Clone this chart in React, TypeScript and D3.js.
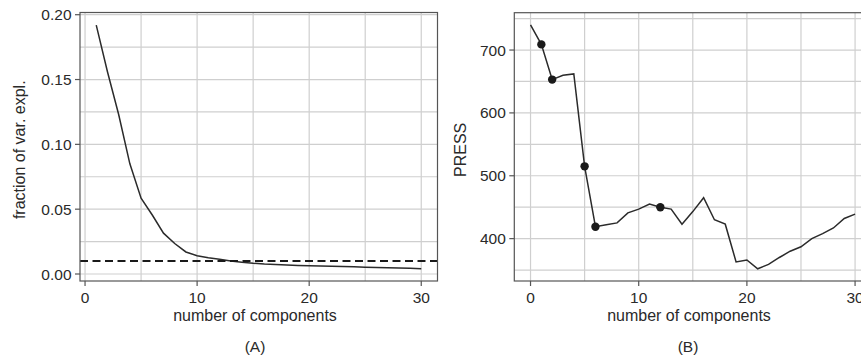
import React from "react";
import * as d3 from "d3";

// Panel A: fraction of variance explained by each component
const componentsA = d3.range(1, 31);
const fracExplained = [
  0.192, 0.156, 0.123, 0.085, 0.0585, 0.0455, 0.0315, 0.0235, 0.017, 0.0141,
  0.0126, 0.0114, 0.0101, 0.0091, 0.0083, 0.0077, 0.0073, 0.0069, 0.0066, 0.0063,
  0.0061, 0.0059, 0.0057, 0.0055, 0.0053, 0.0051, 0.0049, 0.0047, 0.0044, 0.0040,
];
const threshold = 0.01;

// Panel B: PRESS for 0..30 components
const componentsB = d3.range(0, 31);
const press = [
  740, 709, 653, 660, 662, 515, 419, 422, 425, 441,
  447, 455, 450, 447, 423, 443, 465, 430, 423, 363,
  366, 352, 359, 370, 380, 387, 400, 408, 417, 432, 439,
];
const highlighted = [1, 2, 5, 6, 12];

const xTicks = [0, 10, 20, 30];
const yTicksA = [0, 0.05, 0.1, 0.15, 0.2];
const yTicksB = [400, 500, 600, 700];

const FONT = "'Liberation Sans', Arial, Helvetica, sans-serif";
const TEXT = "#2a2a2a";
const GRID = "#cfcfcf";
const FRAME = "#555";

type PanelProps = {
  x: d3.ScaleLinear<number, number>;
  y: d3.ScaleLinear<number, number>;
  xGrid: number[];
  yGrid: number[];
  yTicks: number[];
  yFmt: (v: number) => string;
  yTitle: string;
  yTitleX: number;
  caption: string;
  captionX: number;
  titleX: number;
  children?: React.ReactNode;
};

function Panel({ x, y, xGrid, yGrid, yTicks, yFmt, yTitle, yTitleX, caption, captionX, titleX, children }: PanelProps) {
  const [x0, x1] = x.range();
  const [y0, y1] = y.range(); // y0 bottom, y1 top
  const clipId = "clip-" + caption.replace(/\W/g, "");
  return (
    <g>
      <defs>
        <clipPath id={clipId}>
          <rect x={x0} y={y1} width={x1 - x0} height={y0 - y1} />
        </clipPath>
      </defs>
      {/* grid */}
      {xGrid.map((v) => (
        <line key={"gx" + v} x1={x(v)} x2={x(v)} y1={y1} y2={y0} stroke={GRID} strokeWidth={1.2} />
      ))}
      {yGrid.map((v) => (
        <line key={"gy" + v} x1={x0} x2={x1} y1={y(v)} y2={y(v)} stroke={GRID} strokeWidth={1.2} />
      ))}
      <g clipPath={`url(#${clipId})`}>{children}</g>
      {/* frame */}
      <rect x={x0} y={y1} width={x1 - x0} height={y0 - y1} fill="none" stroke={FRAME} strokeWidth={1.2} />
      {/* y axis */}
      {yTicks.map((v) => (
        <g key={"yt" + v}>
          <line x1={x0 - 5} x2={x0} y1={y(v)} y2={y(v)} stroke={FRAME} strokeWidth={1.2} />
          <text x={x0 - 8.5} y={y(v)} dy="0.36em" textAnchor="end" fontSize={15.5} fill={TEXT} fontFamily={FONT}>
            {yFmt(v)}
          </text>
        </g>
      ))}
      {/* x axis */}
      {xTicks.map((v) => (
        <g key={"xt" + v}>
          <line x1={x(v)} x2={x(v)} y1={y0} y2={y0 + 5} stroke={FRAME} strokeWidth={1.2} />
          <text x={x(v)} y={303} textAnchor="middle" fontSize={15.5} fill={TEXT} fontFamily={FONT}>
            {v}
          </text>
        </g>
      ))}
      <text x={titleX} y={321} textAnchor="middle" fontSize={16} fill={TEXT} fontFamily={FONT}>
        number of components
      </text>
      <text
        transform={`translate(${yTitleX},${(y0 + y1) / 2 + 3}) rotate(-90)`}
        textAnchor="middle"
        dy="0.36em"
        fontSize={16}
        fill={TEXT}
        fontFamily={FONT}
      >
        {yTitle}
      </text>
      <text x={captionX} y={352} textAnchor="middle" fontSize={15.5} fill={TEXT} fontFamily={FONT}>
        {caption}
      </text>
    </g>
  );
}

export default function App() {
  const xA = d3.scaleLinear().domain([-0.45, 31.45]).range([80, 437.5]);
  const yA = d3.scaleLinear().domain([-0.0054, 0.2017]).range([281, 12.5]);
  const xB = d3.scaleLinear().domain([-1.5, 31.5]).range([514.3, 871.3]);
  const yB = d3.scaleLinear().domain([332.6, 759.4]).range([281, 12.7]);

  const lineA = d3
    .line<number>()
    .x((_, i) => xA(componentsA[i]))
    .y((d) => yA(d));
  const lineB = d3
    .line<number>()
    .x((_, i) => xB(componentsB[i]))
    .y((d) => yB(d));

  return (
    <svg
      width={861}
      height={358}
      style={{ position: "absolute", left: 0, top: 0, background: "#fff" }}
    >
      <Panel
        x={xA}
        y={yA}
        xGrid={d3.range(0, 31, 5)}
        yGrid={d3.range(0, 0.2001, 0.025)}
        yTicks={yTicksA}
        yFmt={d3.format(".2f")}
        yTitle="fraction of var. expl."
        yTitleX={19}
        caption="(A)"
        captionX={255}
        titleX={255}
      >
        <path d={lineA(fracExplained) ?? ""} fill="none" stroke="#2b2b2b" strokeWidth={1.5} />
        <line
          x1={xA.range()[0]}
          x2={xA.range()[1]}
          y1={yA(threshold)}
          y2={yA(threshold)}
          stroke="#1a1a1a"
          strokeWidth={2}
          strokeDasharray="8,4.5"
        />
      </Panel>
      <Panel
        x={xB}
        y={yB}
        xGrid={d3.range(0, 31, 5)}
        yGrid={d3.range(350, 751, 50)}
        yTicks={yTicksB}
        yFmt={d3.format("d")}
        yTitle="PRESS"
        yTitleX={460}
        caption="(B)"
        captionX={688}
        titleX={689}
      >
        <path d={lineB(press) ?? ""} fill="none" stroke="#2b2b2b" strokeWidth={1.5} />
        {highlighted.map((c) => (
          <circle key={c} cx={xB(c)} cy={yB(press[c])} r={4.2} fill="#1a1a1a" />
        ))}
      </Panel>
    </svg>
  );
}
